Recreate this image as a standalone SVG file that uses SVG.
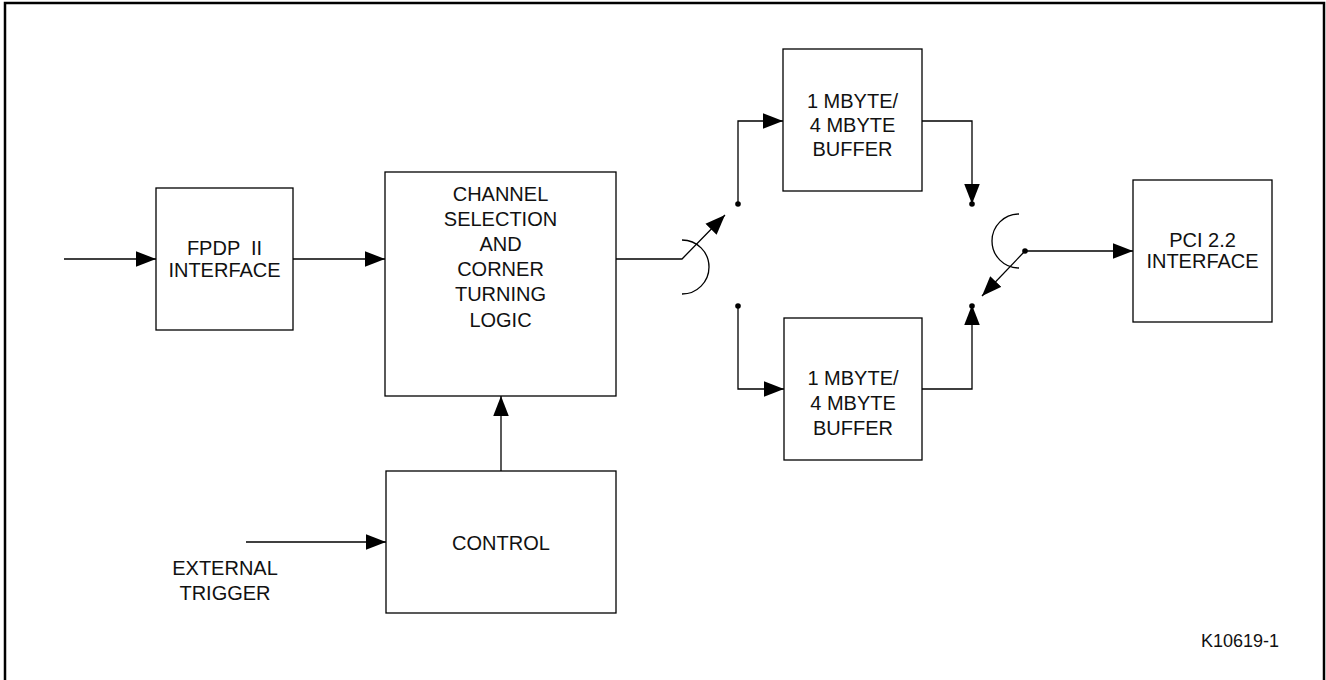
<svg xmlns="http://www.w3.org/2000/svg" width="1326" height="680" viewBox="0 0 1326 680">
<style>
.box{fill:#fff;stroke:#000;stroke-width:1.3}
.ln{fill:none;stroke:#000;stroke-width:1.3}
.t{font-family:"Liberation Sans",Arial,sans-serif;font-size:20px;fill:#111;text-anchor:middle;white-space:pre}
.dot{fill:#000}
</style>
<defs>
<marker id="ah" markerUnits="userSpaceOnUse" markerWidth="20" markerHeight="16" refX="18" refY="7" orient="auto" viewBox="0 0 18 14">
<path d="M0,0 L18,7 L0,14 Z" fill="#000"/>
</marker>
</defs>
<rect x="5" y="3" width="1319" height="700" fill="none" stroke="#000" stroke-width="2.5"/>
<g id="connectors">
<line class="ln" x1="64" y1="259" x2="156" y2="259" marker-end="url(#ah)"/>
<line class="ln" x1="293" y1="259" x2="385" y2="259" marker-end="url(#ah)"/>
<polyline class="ln" points="616,259 682,259 725,215" marker-end="url(#ah)"/>
<path class="ln" d="M682,240 A27,27 0 0 1 682,294"/>
<polyline class="ln" points="738,204 738,121 783,121" marker-end="url(#ah)"/>
<polyline class="ln" points="738,306 738,389 784,389" marker-end="url(#ah)"/>
<circle class="dot" cx="738" cy="204" r="2.8"/>
<circle class="dot" cx="738" cy="306" r="2.8"/>
<polyline class="ln" points="922,121 972,121 972,204" marker-end="url(#ah)"/>
<polyline class="ln" points="922,389 972,389 972,305" marker-end="url(#ah)"/>
<circle class="dot" cx="972" cy="204" r="2.8"/>
<circle class="dot" cx="972" cy="306" r="2.8"/>
<path class="ln" d="M1019,214 A27,27 0 0 0 1019,268"/>
<line class="ln" x1="1025" y1="251" x2="982" y2="296" marker-end="url(#ah)"/>
<line class="ln" x1="1025" y1="251" x2="1133" y2="251" marker-end="url(#ah)"/>
<circle class="dot" cx="1025" cy="251" r="2.8"/>
<line class="ln" x1="501" y1="471" x2="501" y2="396" marker-end="url(#ah)"/>
<line class="ln" x1="246" y1="542" x2="386" y2="542" marker-end="url(#ah)"/>
</g>
<g id="fpdp">
<rect class="box" x="156" y="188" width="137" height="142"/>
<text class="t" x="224.5" y="255" xml:space="preserve">FPDP  II</text>
<text class="t" x="224.5" y="277">INTERFACE</text>
</g>
<g id="channel">
<rect class="box" x="385" y="172" width="231" height="224"/>
<text class="t" x="500.5" y="200.5">CHANNEL</text>
<text class="t" x="500.5" y="225.5">SELECTION</text>
<text class="t" x="500.5" y="251">AND</text>
<text class="t" x="500.5" y="276">CORNER</text>
<text class="t" x="500.5" y="301">TURNING</text>
<text class="t" x="500.5" y="326.5">LOGIC</text>
</g>
<g id="control">
<rect class="box" x="386" y="471" width="230" height="142"/>
<text class="t" x="501" y="550">CONTROL</text>
</g>
<g id="ext-trigger">
<text class="t" x="225" y="575">EXTERNAL</text>
<text class="t" x="225" y="600">TRIGGER</text>
</g>
<g id="buffer1">
<rect class="box" x="783" y="49" width="139" height="142"/>
<text class="t" x="852.5" y="108">1 MBYTE/</text>
<text class="t" x="852.5" y="132">4 MBYTE</text>
<text class="t" x="852.5" y="156">BUFFER</text>
</g>
<g id="buffer2">
<rect class="box" x="784" y="318" width="138" height="142"/>
<text class="t" x="853" y="385">1 MBYTE/</text>
<text class="t" x="853" y="410">4 MBYTE</text>
<text class="t" x="853" y="435">BUFFER</text>
</g>
<g id="pci">
<rect class="box" x="1133" y="180" width="139" height="142"/>
<text class="t" x="1202.5" y="247">PCI 2.2</text>
<text class="t" x="1202.5" y="268">INTERFACE</text>
</g>
<g id="label">
<text class="t" x="1240" y="647" style="font-size:18px">K10619-1</text>
</g>
</svg>
